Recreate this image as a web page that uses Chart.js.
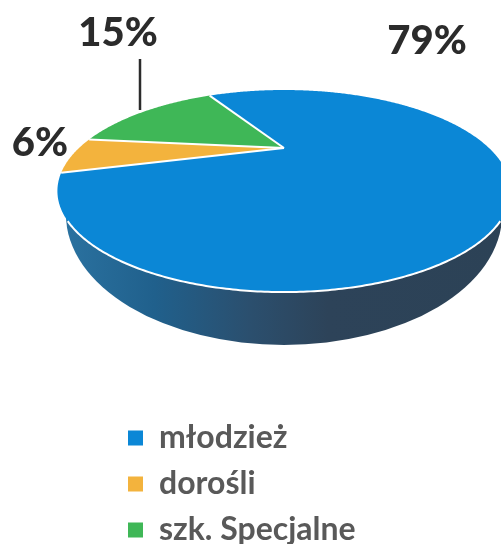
<!DOCTYPE html>
<html>
<head>
<meta charset="utf-8">
<style>
  html, body { margin: 0; padding: 0; background: #fff; }
  #wrap { width: 501px; height: 544px; }
</style>
<script src="https://cdn.jsdelivr.net/npm/chart.js@4"></script>
</head>
<body>
<div id="wrap"><canvas id="chart" width="501" height="544"></canvas></div>
<script>
const categories = ['młodzież', 'dorośli', 'szk. Specjalne'];
const shares = [79, 6, 15];
const sliceColors = ['#0b87d6', '#f3b33d', '#3fb757'];
const shareLabels = ['79%', '6%', '15%'];

// rzut perspektywiczny kola na plaszczyzne wykresu
const persp = { cx: 284, apexY: 148, sx: 205, sy: 82.7, a: 0.426 };
const project = (angle) => {
    const u = Math.cos(angle), v = Math.sin(angle);
    const w = 1 - persp.a * v;
    return [persp.cx + persp.sx * u / w, persp.apexY + persp.sy * v / w];
};

const tracePerimeter = (ctx, from, to) => {
    const steps = Math.max(8, Math.ceil((to - from) / 0.01));
    for (let i = 0; i <= steps; i++) {
        const p = project(from + (to - from) * i / steps);
        ctx.lineTo(p[0], p[1]);
    }
};

const drawWall = (ctx) => {
    ctx.save();
    ctx.beginPath();
    ctx.rect(0, 185, 501, 359);
    ctx.clip();
    const grad = ctx.createLinearGradient(68, 0, 501, 0);
    grad.addColorStop(0, '#2a719f');
    grad.addColorStop(0.2, '#20608c');
    grad.addColorStop(0.42, '#2b4f6e');
    grad.addColorStop(0.6, '#2d4359');
    grad.addColorStop(1, '#2c4256');
    ctx.fillStyle = grad;
    ctx.beginPath();
    ctx.ellipse(284, 215, 218, 130, 0, 0, Math.PI * 2);
    ctx.fill();
    ctx.restore();
};

const pie3d = {
    id: 'pie3d',
    afterLayout(chart) {
        // legenda pod wykresem, w jednej kolumnie
        const lg = chart.legend;
        const w = lg.width, h = lg.height;
        lg.left = 114; lg.top = 408;
        lg.right = lg.left + w; lg.bottom = lg.top + h;
    },
    beforeDatasetsDraw(chart) {
        const ctx = chart.ctx;
        const arcs = chart.getDatasetMeta(0).data;
        drawWall(ctx);

        arcs.forEach((arc) => {
            ctx.beginPath();
            ctx.moveTo(persp.cx, persp.apexY);
            tracePerimeter(ctx, arc.startAngle, arc.endAngle);
            ctx.closePath();
            ctx.fillStyle = arc.options.backgroundColor;
            ctx.fill();
        });

        // biale linie miedzy wycinkami i na przedniej krawedzi
        ctx.strokeStyle = '#fff';
        ctx.lineWidth = 2;
        arcs.forEach((arc) => {
            const p = project(arc.startAngle);
            ctx.beginPath();
            ctx.moveTo(p[0], p[1]);
            ctx.lineTo(persp.cx, persp.apexY);
            ctx.stroke();
        });
        ctx.beginPath();
        tracePerimeter(ctx, 40 * Math.PI / 180, 140 * Math.PI / 180);
        ctx.stroke();

        // etykiety procentowe
        const labelPos = [[427, 54], [40, 156], [118, 46]];
        ctx.fillStyle = '#2b2b2b';
        ctx.font = '900 40px Lato';
        ctx.textAlign = 'center';
        ctx.textBaseline = 'alphabetic';
        shareLabels.forEach((text, i) => ctx.fillText(text, labelPos[i][0], labelPos[i][1]));

        ctx.strokeStyle = '#2b2b2b';
        ctx.lineWidth = 2.5;
        ctx.beginPath();
        ctx.moveTo(140, 59);
        ctx.lineTo(140, 110);
        ctx.stroke();
        return false;
    }
};

new Chart(document.getElementById('chart'), {
    type: 'pie',
    data: {
        labels: categories,
        datasets: [{ data: shares, backgroundColor: sliceColors, borderWidth: 0 }]
    },
    options: {
        responsive: false,
        animation: false,
        rotation: -29.8,
        plugins: {
            tooltip: { enabled: false },
            legend: {
                position: 'left',
                align: 'start',
                labels: {
                    boxWidth: 15,
                    boxHeight: 15,
                    padding: 14,
                    color: '#595959',
                    font: { family: 'Lato', weight: 'bold', size: 32 }
                }
            }
        }
    },
    plugins: [pie3d]
});
</script>
</body>
</html>
